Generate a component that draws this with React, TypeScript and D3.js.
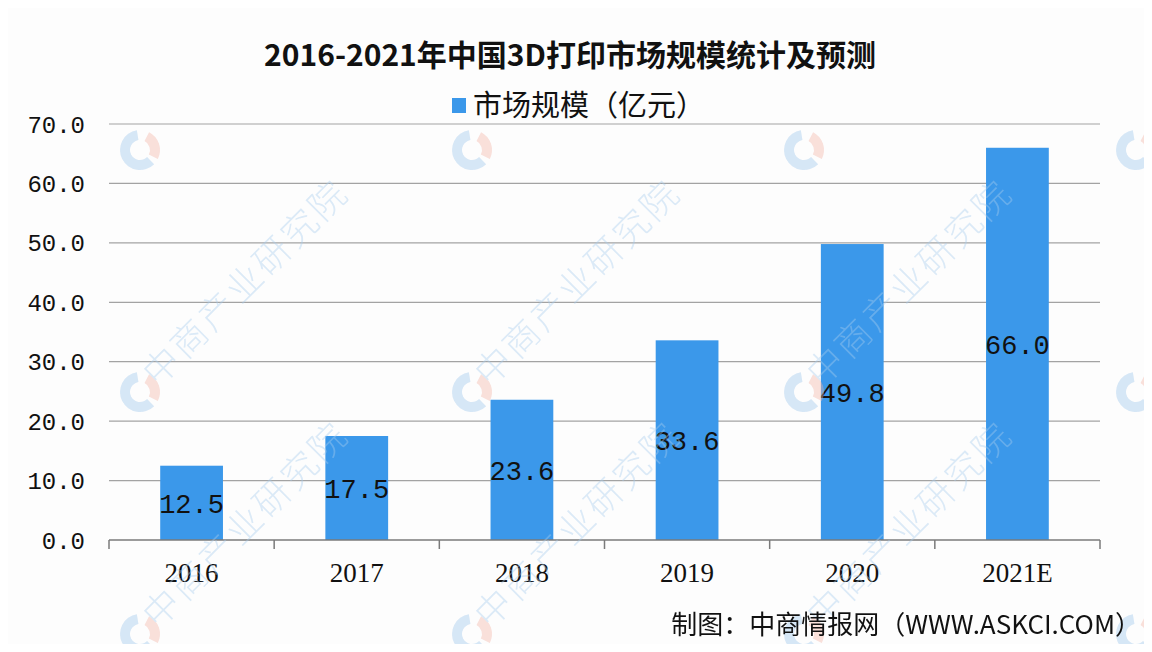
import { useEffect, useRef } from "react";
import * as d3 from "d3";

const years = ["2016", "2017", "2018", "2019", "2020", "2021E"];
const marketSize = [12.5, 17.5, 23.6, 33.6, 49.8, 66.0];
const yTicks = [0, 10, 20, 30, 40, 50, 60, 70];

const title = "2016-2021年中国3D打印市场规模统计及预测";
const legendLabel = "市场规模（亿元）";
const source = "制图：中商情报网（WWW.ASKCI.COM）";
const watermark = "中商产业研究院";

export default function App() {
  const svgRef = useRef<SVGSVGElement>(null);

  useEffect(() => {
    if (!svgRef.current) return;
    const width = 1152;
    const height = 652;
    const margin = { top: 124, right: 52, bottom: 112, left: 109 };
    const innerWidth = width - margin.left - margin.right;
    const innerHeight = height - margin.top - margin.bottom;

    d3.select(svgRef.current).selectAll("*").remove();
    const svg = d3
      .select(svgRef.current)
      .attr("width", width)
      .attr("height", height);

    svg
      .append("rect")
      .attr("width", width)
      .attr("height", height)
      .attr("fill", "#fdfdfd");

    const xScale = d3
      .scaleBand()
      .domain(years)
      .range([0, innerWidth])
      .paddingInner(0.62)
      .paddingOuter(0.31);

    const yScale = d3.scaleLinear().domain([0, 70]).range([innerHeight, 0]);

    const g = svg
      .append("g")
      .attr("transform", `translate(${margin.left},${margin.top})`);

    // grid lines
    g.append("g")
      .selectAll("line")
      .data(yTicks.filter((t) => t > 0))
      .enter()
      .append("line")
      .attr("x1", 0)
      .attr("x2", innerWidth)
      .attr("y1", (d) => yScale(d))
      .attr("y2", (d) => yScale(d))
      .attr("stroke", "#a3a3a3")
      .attr("stroke-width", 1.2);

    // watermark logos + text
    const wm = svg.append("g").attr("opacity", 0.4);
    const logoArc = d3.arc<any>();
    for (let row = 0; row < 3; row++) {
      for (let col = 0; col < 4; col++) {
        const lx = 140 + col * 332;
        const ly = 150 + row * 242;
        const lg = wm.append("g").attr("transform", `translate(${lx},${ly})`);
        lg.append("path")
          .attr(
            "d",
            logoArc({
              innerRadius: 10,
              outerRadius: 20,
              startAngle: Math.PI * 0.15,
              endAngle: Math.PI * 0.65,
            })
          )
          .attr("fill", "#f3b3a6");
        lg.append("path")
          .attr(
            "d",
            logoArc({
              innerRadius: 10,
              outerRadius: 20,
              startAngle: Math.PI * 0.75,
              endAngle: Math.PI * 1.95,
            })
          )
          .attr("fill", "#9cc6ec");
        // only draw the text where it fits inside the picture
        if (row > 0 && col < 3) {
          wm.append("text")
            .attr("transform", `translate(${lx + 18},${ly - 4}) rotate(-45)`)
            .attr("font-family", "Noto Sans CJK SC")
            .attr("font-weight", 300)
            .attr("font-size", 36)
            .attr("fill", "#a9cdee")
            .attr("letter-spacing", 3)
            .text(watermark);
        }
      }
    }

    // bars
    g.append("g")
      .selectAll("rect")
      .data(marketSize)
      .enter()
      .append("rect")
      .attr("x", (_, i) => xScale(years[i])!)
      .attr("y", (d) => yScale(d))
      .attr("width", xScale.bandwidth())
      .attr("height", (d) => innerHeight - yScale(d))
      .attr("fill", "#3b98ea");

    // bar value labels
    g.append("g")
      .selectAll("text")
      .data(marketSize)
      .enter()
      .append("text")
      .attr("x", (_, i) => xScale(years[i])! + xScale.bandwidth() / 2)
      .attr("y", (d) => (yScale(d) + innerHeight) / 2)
      .attr("dy", "0.36em")
      .attr("text-anchor", "middle")
      .attr("font-family", "Liberation Mono, DejaVu Sans Mono, monospace")
      .attr("font-size", 27)
      .attr("fill", "#111")
      .text((d) => d.toFixed(1));

    // x axis
    const xAxis = g.append("g").attr("transform", `translate(0,${innerHeight})`);
    xAxis
      .append("line")
      .attr("x1", 0)
      .attr("x2", innerWidth)
      .attr("stroke", "#7a7a7a")
      .attr("stroke-width", 1.5);
    const step = xScale.step();
    const boundaries = d3.range(years.length + 1).map((i) => i * step);
    xAxis
      .selectAll(".tick")
      .data(boundaries)
      .enter()
      .append("line")
      .attr("x1", (d) => d)
      .attr("x2", (d) => d)
      .attr("y1", 0)
      .attr("y2", 9)
      .attr("stroke", "#7a7a7a")
      .attr("stroke-width", 1.5);
    xAxis
      .selectAll(".label")
      .data(years)
      .enter()
      .append("text")
      .attr("x", (d) => xScale(d)! + xScale.bandwidth() / 2)
      .attr("y", 42)
      .attr("text-anchor", "middle")
      .attr("font-family", "Liberation Serif, DejaVu Serif, serif")
      .attr("font-size", 27)
      .attr("fill", "#111")
      .text((d) => d);

    // y axis labels
    g.append("g")
      .selectAll("text")
      .data(yTicks)
      .enter()
      .append("text")
      .attr("x", -24)
      .attr("y", (d) => yScale(d))
      .attr("dy", "0.36em")
      .attr("text-anchor", "end")
      .attr("font-family", "Liberation Mono, DejaVu Sans Mono, monospace")
      .attr("font-size", 24)
      .attr("fill", "#111")
      .text((d) => d.toFixed(1));

    // title
    svg
      .append("text")
      .attr("x", 570)
      .attr("y", 66)
      .attr("text-anchor", "middle")
      .attr("font-family", "Noto Sans CJK SC")
      .attr("font-weight", "bold")
      .attr("font-size", 30)
      .attr("fill", "#111")
      .text(title);

    // legend
    const legend = svg.append("g").attr("transform", "translate(452,98)");
    legend
      .append("rect")
      .attr("width", 14)
      .attr("height", 15)
      .attr("fill", "#3b98ea");
    legend
      .append("text")
      .attr("x", 21)
      .attr("y", 8)
      .attr("dy", "0.36em")
      .attr("font-family", "Noto Sans CJK SC")
      .attr("font-size", 29)
      .attr("fill", "#111")
      .text(legendLabel);

    // source
    svg
      .append("text")
      .attr("x", 1141)
      .attr("y", 634)
      .attr("text-anchor", "end")
      .attr("font-family", "Noto Sans CJK SC")
      .attr("font-size", 26)
      .attr("fill", "#111")
      .text(source);

    // frame
    svg
      .append("rect")
      .attr("x", 0.5)
      .attr("y", 0.5)
      .attr("width", width - 1)
      .attr("height", height - 1)
      .attr("fill", "none")
      .attr("stroke", "#666")
      .attr("stroke-width", 1);
  }, []);

  return (
    <div style={{ margin: -8 }}>
      <svg ref={svgRef} style={{ display: "block" }} />
    </div>
  );
}
